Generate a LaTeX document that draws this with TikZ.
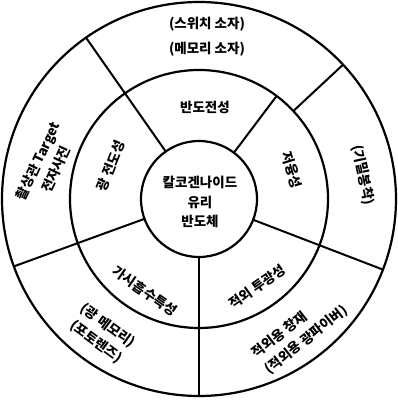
\documentclass[tikz,border=0pt]{standalone}
\usepackage{fontspec}
\newfontfamily\krfont{Noto Sans CJK KR}
\usetikzlibrary{calc}

\begin{document}
\begin{tikzpicture}[x=1pt, y=1pt,
    ring/.style={line width=2.2pt, black},
    divider/.style={line width=2pt, black},
    label/.style={font={\krfont\bfseries\fontsize{13.5}{20}\selectfont}, align=center, inner sep=0pt}
]
\useasboundingbox (-199,-209) rectangle (199,199);
\coordinate (c) at (0,0);

% Rings
\draw[ring] (c) circle (197);
\draw[ring] (c) circle (129);
\draw[ring] (c) circle (58);

% Dividers: inner ring
\draw[divider] (125:58) -- (125:197);
\draw[divider] (53:58) -- (53:129);
\draw[divider] (-21:58) -- (-21:197);
\draw[divider] (270:58) -- (270:197);
\draw[divider] (200:58) -- (200:197);

% Dividers: outer ring
\draw[divider] (43:129) -- (43:197);

% Core
\node[label, font={\krfont\bfseries\fontsize{13.5}{19.5}\selectfont}] (core) at (1,-3) {칼코겐나이드\\유리\\반도체};

% Properties (inner ring)
\node[label] (semi) at (6,92) {반도전성};
\node[label, rotate=-73] (melt) at (93,29) {저융성};
\node[label, rotate=35] (irtrans) at (58,-88) {적외 투광성};
\node[label, rotate=-35] (visabs) at (-54,-92) {가시흡수특성};
\node[label, rotate=68] (photo) at (-88,33) {광 전도성};

% Applications (outer ring)
\node[label] (switch) at (8,162) {(스위치 소자)\\[5pt](메모리 소자)};
\node[label, rotate=-78] (seal) at (164,24) {(기밀봉착)};
\node[label, rotate=38, align=left] (irwin) at (101,-133) {적외용 창재\\(적외용 광파이버)};
\node[label, rotate=-36] (optmem) at (-97,-135) {(광 메모리)\\(포토렌즈)};
\node[label, rotate=65] (camera) at (-152,34) {촬상관 Target\\전자사진};

\end{tikzpicture}
\end{document}
